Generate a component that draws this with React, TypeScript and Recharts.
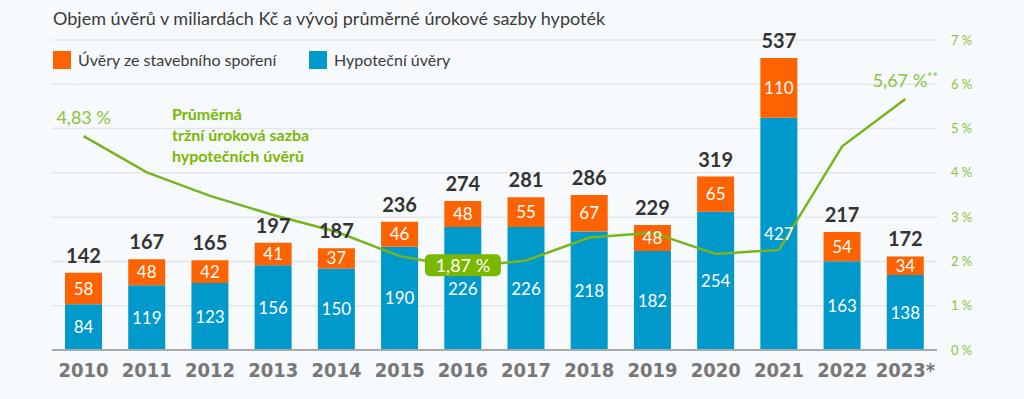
import React from 'react';
import { ComposedChart, Bar, Line, XAxis, YAxis, CartesianGrid, LabelList } from 'recharts';

const years = ['2010', '2011', '2012', '2013', '2014', '2015', '2016', '2017', '2018', '2019', '2020', '2021', '2022', '2023*'];
const mortgage = [84, 119, 123, 156, 150, 190, 226, 226, 218, 182, 254, 427, 163, 138];
const savings = [58, 48, 42, 41, 37, 46, 48, 55, 67, 48, 65, 110, 54, 34];
const totals = [142, 167, 165, 197, 187, 236, 274, 281, 286, 229, 319, 537, 217, 172];
const rates = [4.83, 4.01, 3.48, 3.05, 2.67, 2.12, 1.87, 2.02, 2.54, 2.65, 2.17, 2.26, 4.6, 5.67];
const rateTicks = [0, 1, 2, 3, 4, 5, 6, 7];
const labeledRates = [0, 6, 13];

const data = years.map((y, i) => ({
  year: y,
  mortgage: mortgage[i],
  savings: savings[i],
  total: totals[i],
  rate: rates[i],
}));

const ORANGE = '#ff6200';
const BLUE = '#0099cc';
const GREEN = '#78b41e';
const LGREEN = '#8cc43c';
const FONT = 'Lato, "Open Sans", sans-serif';

const fmtRate = (v: number) => v.toFixed(2).replace('.', ',') + ' %';

const RateLabel = (props: any) => {
  const { x, y, index } = props;
  if (!labeledRates.includes(index)) return null;
  const text = fmtRate(rates[index]);
  if (index === 6) {
    return (
      <g>
        <rect x={x - 38} y={y - 13} width={76} height={22} rx={5} fill="#7ab800" />
        <text x={x} y={y + 4.5} textAnchor="middle" fill="#fff" fontSize={18} fontFamily={FONT}>{text}</text>
      </g>
    );
  }
  return (
    <text x={x} y={y - 12} textAnchor="middle" fill={LGREEN} fontSize={18} fontFamily={FONT}>
      {text}
      {index === 13 ? <tspan fontSize={13} dy={-5}>**</tspan> : null}
    </text>
  );
};

export default function App() {
  return (
    <div style={{ position: 'absolute', left: 0, top: 0, width: 1024, height: 399, background: '#f7fafd', fontFamily: FONT, overflow: 'hidden' }}>
      <div style={{ position: 'absolute', left: 53, top: 7, fontSize: 18, lineHeight: '22px', color: '#3a3a3a', whiteSpace: 'nowrap' }}>
        Objem úvěrů v miliardách Kč a vývoj průměrné úrokové sazby hypoték
      </div>
      <div style={{ position: 'absolute', left: 53, top: 51, width: 18, height: 18, background: ORANGE }} />
      <div style={{ position: 'absolute', left: 78, top: 50, fontSize: 16, lineHeight: '20px', color: '#3a3a3a', whiteSpace: 'nowrap' }}>Úvěry ze stavebního spoření</div>
      <div style={{ position: 'absolute', left: 309, top: 51, width: 18, height: 18, background: BLUE }} />
      <div style={{ position: 'absolute', left: 334, top: 50, fontSize: 16, lineHeight: '20px', color: '#3a3a3a', whiteSpace: 'nowrap' }}>Hypoteční úvěry</div>
      <div style={{ position: 'absolute', left: 0, top: 0 }}>
        <ComposedChart width={1024} height={399} data={data} margin={{ top: 40, right: 0, left: 52, bottom: 0 }} barCategoryGap={0}>
          <CartesianGrid yAxisId="right" vertical={false} stroke="#e4e7ea" strokeWidth={1.5} />
          <XAxis
            dataKey="year"
            height={49}
            tickLine={false}
            tickSize={0}
            tickMargin={13}
            axisLine={{ stroke: '#a9a9a9', strokeWidth: 2 }}
            tick={{ fill: '#777', fontSize: 20, fontWeight: 700, fontFamily: '"DejaVu Sans Condensed", "DejaVu Sans", sans-serif', style: { fontStretch: 'condensed' } }}
            interval={0}
          />
          <YAxis yAxisId="left" hide domain={[0, 570]} />
          <YAxis
            yAxisId="right"
            orientation="right"
            width={87}
            domain={[0, 7]}
            ticks={rateTicks}
            tickFormatter={(v: number) => `${v} %`}
            axisLine={false}
            tickLine={false}
            tickSize={0}
            tickMargin={14}
            tick={{ fill: LGREEN, fontSize: 13, fontFamily: FONT, textAnchor: 'start' }}
          />
          <Bar yAxisId="left" dataKey="mortgage" stackId="a" fill={BLUE} barSize={37} isAnimationActive={false}>
            <LabelList dataKey="mortgage" position="center" fill="#fff" fontSize={17} fontFamily={FONT} />
          </Bar>
          <Bar yAxisId="left" dataKey="savings" stackId="a" fill={ORANGE} barSize={37} isAnimationActive={false}>
            <LabelList dataKey="savings" position="center" fill="#fff" fontSize={17} fontFamily={FONT} />
            <LabelList dataKey="total" position="top" offset={10} fill="#333" fontSize={20} fontWeight={700} fontFamily={FONT} />
          </Bar>
          <Line yAxisId="right" dataKey="rate" type="linear" stroke={GREEN} strokeWidth={2.5} dot={false} isAnimationActive={false} label={<RateLabel />} />
        </ComposedChart>
      </div>
      <div style={{ position: 'absolute', left: 172, top: 103, fontSize: 16, fontWeight: 700, lineHeight: '21px', color: '#7ab800', whiteSpace: 'nowrap' }}>
        Průměrná<br />tržní úroková sazba<br />hypotečních úvěrů
      </div>
    </div>
  );
}
